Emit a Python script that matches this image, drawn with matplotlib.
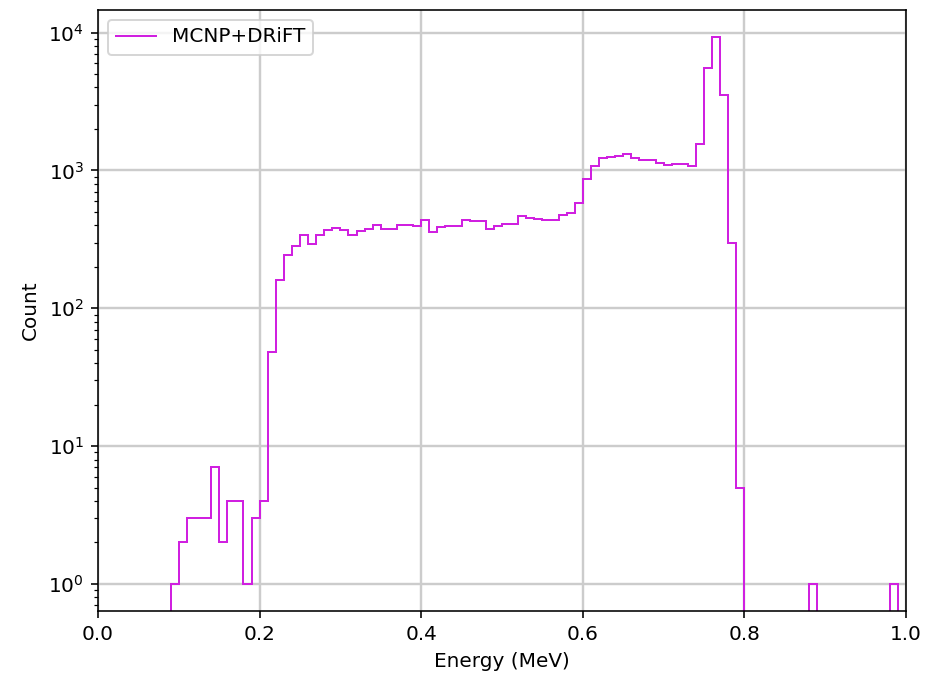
import numpy as np
import matplotlib
matplotlib.use('Agg')
import matplotlib.pyplot as plt
from matplotlib.lines import Line2D

# bin edges of the energy histogram (MeV), 0.01 wide
bin_edges = np.round(np.arange(0.0, 1.0001, 0.01), 2)

# counts per bin (bins 0.00 .. 0.99)
counts = [
    0, 0, 0, 0, 0, 0, 0, 0, 0, 1,                        # 0.00 - 0.09
    2, 3, 3, 3, 7, 2, 4, 4, 1, 3,                        # 0.10 - 0.19
    4, 48, 160, 245, 283, 338, 291, 338, 367, 382,       # 0.20 - 0.29
    367, 340, 361, 373, 402, 378, 378, 405, 405, 397,    # 0.30 - 0.39
    435, 360, 390, 395, 395, 434, 430, 430, 376, 393,    # 0.40 - 0.49
    411, 411, 464, 450, 447, 434, 434, 472, 494, 585,    # 0.50 - 0.59
    871, 1080, 1236, 1250, 1270, 1306, 1236, 1195, 1195, 1130,  # 0.60 - 0.69
    1099, 1119, 1119, 1075, 1543, 5546, 9354, 3553, 299, 5,     # 0.70 - 0.79
    0, 0, 0, 0, 0, 0, 0, 0, 1, 0,                        # 0.80 - 0.89
    0, 0, 0, 0, 0, 0, 0, 0, 1, 0,                        # 0.90 - 0.99
]
series_label = 'MCNP+DRiFT'
line_color = '#d020e0'

bin_centers = (bin_edges[:-1] + bin_edges[1:]) / 2

fig = plt.figure(figsize=(927 / 144, 681 / 144), dpi=144)
ax = fig.add_axes([98 / 927, 1 - 611 / 681, 808 / 927, 601.5 / 681])

# step histogram using the counts as weights
ax.hist(bin_centers, bins=bin_edges, weights=counts, histtype='step',
        color=line_color, label=series_label)

ax.set_yscale('log')
ax.set_xlim(0, 1)
ax.set_ylim(0.637, 14700)
ax.set_xlabel('Energy (MeV)')
ax.set_ylabel('Count')
ax.grid(True, color='0.8', lw=1.2)

# legend shows a line, not a patch
handle = Line2D([], [], color=line_color, lw=1.0)
ax.legend([handle], [series_label], loc='upper left')

fig.savefig('out.png', dpi=144)
